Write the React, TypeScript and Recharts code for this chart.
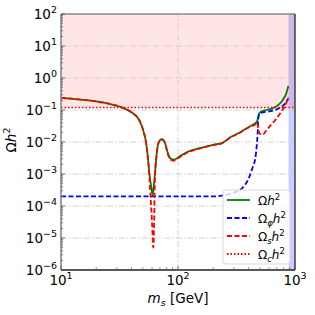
import React from 'react';
import { ComposedChart, Line, XAxis, YAxis, ReferenceArea, ReferenceLine } from 'recharts';

// Ωh² (total)
const massTotal = [10, 14, 18, 25, 33, 40, 47, 51, 53, 55, 57, 59, 60.6, 62, 63.5, 65.6, 68, 72.6, 77.5, 80, 83, 88, 93, 100, 122, 150, 170, 200, 236, 280, 330, 380, 420, 455, 475, 485, 495, 510, 573, 650, 700, 760, 800, 840, 877];
const omegaTotal = [0.24, 0.215, 0.195, 0.16, 0.121, 0.085, 0.046, 0.02, 0.011, 0.004, 0.001, 0.0004, 0.00022, 0.0004, 0.001, 0.004, 0.0093, 0.0122, 0.0093, 0.006, 0.0039, 0.0029, 0.0028, 0.0033, 0.005, 0.0063, 0.0071, 0.0082, 0.0092, 0.014, 0.019, 0.026, 0.032, 0.038, 0.045, 0.06, 0.08, 0.088, 0.1, 0.115, 0.133, 0.175, 0.23, 0.32, 0.56];

// Ωφh²
const massPhi = [10, 200, 236, 288, 350, 400, 441, 455, 470, 480, 487, 495, 519, 600, 698, 794, 840, 877];
const omegaPhi = [2e-4, 2e-4, 2.1e-4, 2.5e-4, 3.5e-4, 7e-4, 1.9e-3, 2.7e-3, 7e-3, 0.02, 0.06, 0.078, 0.083, 0.09, 0.105, 0.14, 0.17, 0.23];

// Ωsh²
const massS = [10, 14, 18, 25, 33, 40, 47, 51, 53, 55, 57, 58.5, 60, 61.5, 62.5, 63.5, 65.6, 68, 72.6, 77.5, 80, 83, 88, 93, 100, 122, 150, 170, 200, 236, 280, 330, 380, 420, 455, 470, 480, 490, 500, 530, 573, 640, 698, 750, 794, 840, 877];
const omegaS = [0.24, 0.215, 0.195, 0.16, 0.121, 0.085, 0.046, 0.02, 0.011, 0.0038, 0.0008, 0.00015, 0.00003, 0.000005, 0.00003, 0.0008, 0.0038, 0.0091, 0.012, 0.0091, 0.0058, 0.0037, 0.0027, 0.0026, 0.0031, 0.0048, 0.0061, 0.0069, 0.008, 0.009, 0.0138, 0.0187, 0.0256, 0.031, 0.035, 0.042, 0.035, 0.022, 0.018, 0.017, 0.024, 0.038, 0.055, 0.08, 0.11, 0.16, 0.26];

// Ωch² (observed)
const massC = [10, 1000];
const omegaC = [0.12, 0.12];

const excludedMassMin = 880;
const xDomain = [10, 1000];
const yDomain = [1e-6, 100];
const xMajor = [10, 100, 1000];
const yMajor = [1e-6, 1e-5, 1e-4, 1e-3, 1e-2, 1e-1, 1, 10, 100];

const toRows = (xs: number[], ys: number[]) => xs.map((x, i) => ({ x, y: ys[i] }));
const totalData = toRows(massTotal, omegaTotal);
const phiData = toRows(massPhi, omegaPhi);
const sData = toRows(massS, omegaS);
const cData = toRows(massC, omegaC);

const withMinors = (majors: number[]) => {
  const out: number[] = [];
  majors.forEach((m, i) => {
    out.push(m);
    if (i < majors.length - 1) for (let k = 2; k <= 9; k++) out.push(m * k);
  });
  return out;
};
const xTicks = withMinors(xMajor);
const yTicks = withMinors(yMajor);

const FONT = 'DejaVu Sans';
const expOf = (v: number) => Math.round(Math.log10(v));
const isMajor = (v: number) => Math.abs(Math.log10(v) - expOf(v)) < 1e-6;
const expLabel = (e: number) => (e < 0 ? '\u2212' + -e : String(e));

const YTick = (props: any) => {
  const { x, y, payload } = props;
  const v = payload.value;
  const major = isMajor(v);
  return (
    <g>
      <line x1={x} x2={x + (major ? 4 : 2)} y1={y} y2={y} stroke="#555" strokeWidth={0.8} />
      {major && (
        <text x={x - 4} y={y + 5} textAnchor="end" fontFamily={FONT} fontSize={13.5} fill="#000">
          10<tspan dy={-6} fontSize={9.5}>{expLabel(expOf(v))}</tspan>
        </text>
      )}
    </g>
  );
};

const XTick = (props: any) => {
  const { x, y, payload } = props;
  const v = payload.value;
  const major = isMajor(v);
  return (
    <g>
      <line x1={x} x2={x} y1={y} y2={y - (major ? 4 : 2.5)} stroke="#555" strokeWidth={0.8} />
      {major && (
        <text x={x} y={y + 15} textAnchor="middle" fontFamily={FONT} fontSize={13.5} fill="#000">
          10<tspan dy={-6} fontSize={9.5}>{expLabel(expOf(v))}</tspan>
        </text>
      )}
    </g>
  );
};

const gridStyle = { stroke: '#c8c8c8', strokeWidth: 0.8, strokeDasharray: '6 2 1.5 2' };

const legendItems = [
  { color: '#008000', dash: undefined as string | undefined, sub: '' },
  { color: '#0000ff', dash: '5 2.5', sub: '\u03c6' },
  { color: '#ff0000', dash: '5 2.5', sub: 's' },
  { color: '#ff0000', dash: '1.5 2', sub: 'c' },
];

export default function App() {
  return (
    <div style={{ position: 'absolute', left: 0, top: 0, width: 315, height: 315, background: '#fff' }}>
      <ComposedChart width={315} height={315} margin={{ top: 14, right: 20, bottom: 0, left: 0 }}>
        <XAxis
          dataKey="x"
          type="number"
          scale="log"
          domain={xDomain}
          allowDataOverflow
          ticks={xTicks}
          interval={0}
          tick={<XTick />}
          tickLine={false}
          tickSize={0}
          tickMargin={0}
          height={45}
          axisLine={{ stroke: '#222', strokeWidth: 1.3 }}
        />
        <YAxis
          dataKey="y"
          type="number"
          scale="log"
          domain={yDomain}
          allowDataOverflow
          ticks={yTicks}
          interval={0}
          tick={<YTick />}
          tickLine={false}
          tickSize={0}
          tickMargin={0}
          width={61}
          axisLine={{ stroke: '#888', strokeWidth: 1.6 }}
        />
        <ReferenceArea x1={10} x2={1000} y1={0.12} y2={100} fill="#ff0000" fillOpacity={0.1} stroke="none" />
        <ReferenceArea x1={excludedMassMin} x2={1000} y1={1e-6} y2={100} fill="#0000ff" fillOpacity={0.2} stroke="none" />
        {yMajor.slice(1, -1).map((v) => (
          <ReferenceLine key={'gy' + v} y={v} {...gridStyle} />
        ))}
        <ReferenceLine x={100} {...gridStyle} />
        <ReferenceLine y={100} stroke="#888" strokeWidth={1.6} />
        <ReferenceLine x={1000} stroke="#222" strokeWidth={1.3} />
        <Line data={totalData} dataKey="y" type="monotone" stroke="#008000" strokeWidth={1.8} dot={false} isAnimationActive={false} />
        <Line data={phiData} dataKey="y" type="monotone" stroke="#0000ff" strokeWidth={1.8} strokeDasharray="5 2.5" dot={false} isAnimationActive={false} />
        <Line data={sData} dataKey="y" type="monotone" stroke="#ff0000" strokeWidth={1.8} strokeDasharray="5 2.5" dot={false} isAnimationActive={false} />
        <Line data={cData} dataKey="y" type="linear" stroke="#ff0000" strokeWidth={1.6} strokeDasharray="1.5 2" dot={false} isAnimationActive={false} />
      </ComposedChart>
      <svg width={315} height={315} style={{ position: 'absolute', left: 0, top: 0, pointerEvents: 'none' }}>
        <text transform="translate(16,140) rotate(-90)" textAnchor="middle" fontFamily={FONT} fontSize={13.5} fill="#000">
          Ω<tspan fontStyle="italic">h</tspan><tspan dy={-6} fontSize={9.5}>2</tspan>
        </text>
        <text x={178} y={303} textAnchor="middle" fontFamily={FONT} fontSize={13.5} fill="#000">
          <tspan fontStyle="italic">m</tspan><tspan fontStyle="italic" fontSize={9.5} dy={3}>s</tspan><tspan dy={-3}> [GeV]</tspan>
        </text>
        <rect x={223} y={190} width={67} height={74} rx={3} fill="#fff" fillOpacity={0.8} stroke="#d8d8d8" strokeWidth={1} />
        {legendItems.map((it, i) => {
          const cy = 200 + i * 18;
          return (
            <g key={i}>
              <line x1={227} x2={250} y1={cy} y2={cy} stroke={it.color} strokeWidth={1.8} strokeDasharray={it.dash} />
              <text x={258} y={cy + 5} fontFamily={FONT} fontSize={12} fill="#000">Ω{it.sub ? <tspan fontSize={8.5} dy={3} fontStyle="italic">{it.sub}</tspan> : null}<tspan fontStyle="italic" dy={it.sub ? -3 : 0}>h</tspan><tspan dy={-5} fontSize={8.5}>2</tspan></text>
            </g>
          );
        })}
      </svg>
    </div>
  );
}
